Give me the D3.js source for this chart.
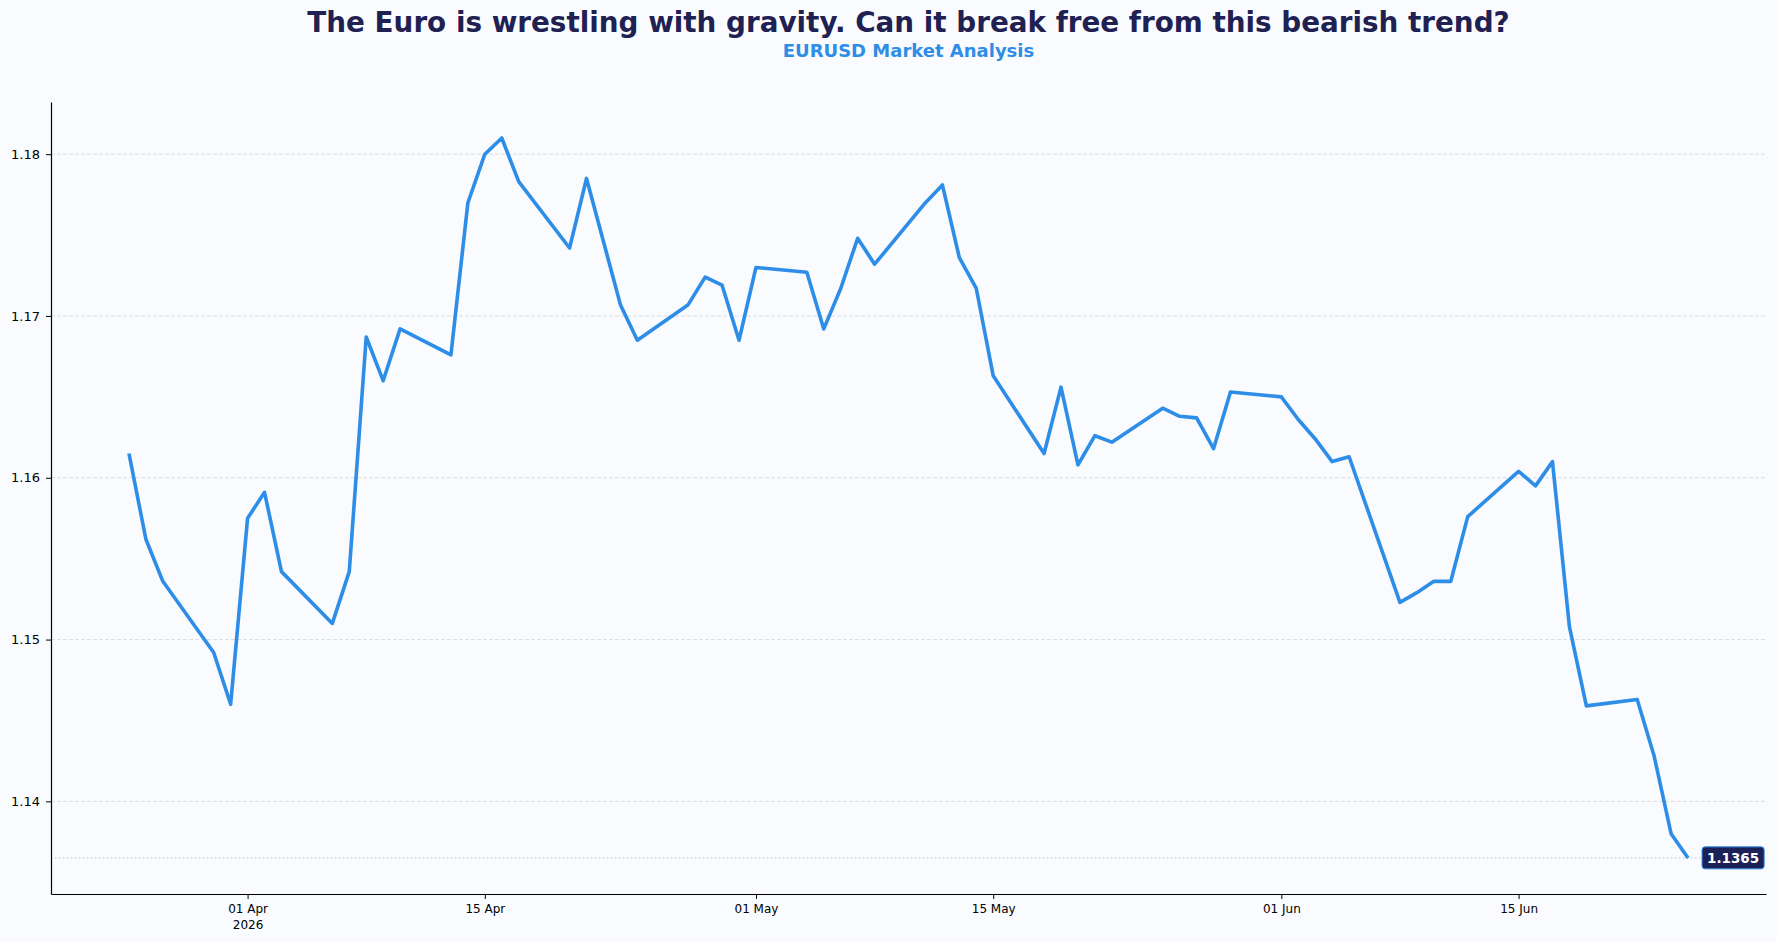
<!DOCTYPE html>
<html>
<head>
<meta charset="utf-8">
<script src="https://cdn.jsdelivr.net/npm/d3@7"></script>
<style>
  html, body { margin: 0; padding: 0; background: #f9fbfe; }
  svg { display: block; font-family: "DejaVu Sans", sans-serif; }
</style>
</head>
<body>
<div id="container"></div>
<script>
/* CONSTANTS AND GLOBALS */
const width = 1777,
  height = 942,
  margin = { top: 102, right: 11, bottom: 48, left: 51 };

const title = "The Euro is wrestling with gravity. Can it break free from this bearish trend?";
const subtitle = "EURUSD Market Analysis";

/* DATA (trading days, close) */
const dates = [
  "2026-03-25", "2026-03-26", "2026-03-27", "2026-03-30", "2026-03-31",
  "2026-04-01", "2026-04-02", "2026-04-03", "2026-04-06", "2026-04-07",
  "2026-04-08", "2026-04-09", "2026-04-10", "2026-04-13", "2026-04-14",
  "2026-04-15", "2026-04-16", "2026-04-17", "2026-04-20", "2026-04-21",
  "2026-04-22", "2026-04-23", "2026-04-24", "2026-04-27", "2026-04-28",
  "2026-04-29", "2026-04-30", "2026-05-01", "2026-05-04", "2026-05-05",
  "2026-05-06", "2026-05-07", "2026-05-08", "2026-05-11", "2026-05-12",
  "2026-05-13", "2026-05-14", "2026-05-15", "2026-05-18", "2026-05-19",
  "2026-05-20", "2026-05-21", "2026-05-22", "2026-05-25", "2026-05-26",
  "2026-05-27", "2026-05-28", "2026-05-29", "2026-06-01", "2026-06-02",
  "2026-06-03", "2026-06-04", "2026-06-05", "2026-06-08", "2026-06-09",
  "2026-06-10", "2026-06-11", "2026-06-12", "2026-06-15", "2026-06-16",
  "2026-06-17", "2026-06-18", "2026-06-19", "2026-06-22", "2026-06-23",
  "2026-06-24", "2026-06-25"
];
const closes = [
  1.1615, 1.1562, 1.1536, 1.1492, 1.1460,
  1.1575, 1.1591, 1.1542, 1.1510, 1.1542,
  1.1687, 1.1660, 1.1692, 1.1676, 1.1770,
  1.1800, 1.1810, 1.1783, 1.1742, 1.1785,
  1.1746, 1.1707, 1.1685, 1.1707, 1.1724,
  1.1719, 1.1685, 1.1730, 1.1727, 1.1692,
  1.1717, 1.1748, 1.1732, 1.1770, 1.1781,
  1.1736, 1.1717, 1.1663, 1.1615, 1.1656,
  1.1608, 1.1626, 1.1622, 1.1643, 1.1638,
  1.1637, 1.1618, 1.1653, 1.1650, 1.1636,
  1.1624, 1.1610, 1.1613, 1.1523, 1.1529,
  1.1536, 1.1536, 1.1576, 1.1604, 1.1595,
  1.1610, 1.1508, 1.1459, 1.1463, 1.1428,
  1.1380, 1.1365
];
const xTickDates = ["2026-04-01", "2026-04-15", "2026-05-01", "2026-05-15", "2026-06-01", "2026-06-15"];
const yTicks = [1.14, 1.15, 1.16, 1.17, 1.18];

const parse = d3.utcParse("%Y-%m-%d");
const data = dates.map((d, i) => ({ date: parse(d), close: closes[i] }));
const last = data[data.length - 1];

// matplotlib-like 5% margins
function pad(ext) {
  const p = (ext[1] - ext[0]) * 0.05;
  return [ext[0] - p, ext[1] + p];
}

// SCALES
const xExt = d3.extent(data, d => +d.date);
const xPad = pad(xExt);
const xScale = d3.scaleUtc()
  .domain([new Date(xPad[0]), new Date(xPad[1])])
  .range([margin.left, width - margin.right]);

const yScale = d3.scaleLinear()
  .domain(pad(d3.extent(data, d => d.close)))
  .range([height - margin.bottom, margin.top]);

const centerX = (margin.left + width - margin.right) / 2;

// CREATE SVG ELEMENT
const svg = d3.select("#container")
  .append("svg")
  .attr("width", width)
  .attr("height", height);

svg.append("rect")
  .attr("width", width)
  .attr("height", height)
  .attr("fill", "#f9fbfe");

// TITLES
svg.append("text")
  .attr("x", centerX)
  .attr("y", 32)
  .attr("text-anchor", "middle")
  .attr("font-size", 27.8)
  .attr("font-weight", "bold")
  .attr("fill", "#1f2152")
  .text(title);

svg.append("text")
  .attr("x", centerX)
  .attr("y", 57)
  .attr("text-anchor", "middle")
  .attr("font-size", 18)
  .attr("font-weight", "bold")
  .attr("fill", "#2e8de6")
  .text(subtitle);

// GRID
svg.append("g")
  .attr("class", "grid")
  .selectAll("line")
  .data(yTicks)
  .join("line")
  .attr("x1", margin.left)
  .attr("x2", width - margin.right)
  .attr("y1", d => yScale(d))
  .attr("y2", d => yScale(d))
  .attr("stroke", "#d3d6dc")
  .attr("stroke-width", 0.8)
  .attr("stroke-dasharray", "4,2");

// last value reference line
svg.append("line")
  .attr("x1", margin.left)
  .attr("x2", width - margin.right)
  .attr("y1", yScale(last.close))
  .attr("y2", yScale(last.close))
  .attr("stroke", "#b8bcc4")
  .attr("stroke-width", 1)
  .attr("stroke-dasharray", "1.5,2.5");

// LINE GENERATOR FUNCTION
const lineGen = d3.line()
  .x(d => xScale(d.date))
  .y(d => yScale(d.close));

svg.append("path")
  .datum(data)
  .attr("class", "line")
  .attr("fill", "none")
  .attr("stroke", "#2e8de6")
  .attr("stroke-width", 3.6)
  .attr("stroke-linejoin", "round")
  .attr("d", lineGen);

// AXES
const xAxis = svg.append("g")
  .attr("class", "x-axis")
  .attr("transform", `translate(0, ${height - margin.bottom})`)
  .call(d3.axisBottom(xScale)
    .tickValues(xTickDates.map(parse))
    .tickFormat(d3.utcFormat("%d %b"))
    .tickSize(5)
    .tickSizeOuter(0));

xAxis.select(".domain").attr("stroke", "#000").attr("stroke-width", 1.2);
xAxis.selectAll(".tick line").attr("stroke", "#000");
xAxis.selectAll(".tick text")
  .attr("font-size", 12)
  .attr("font-family", "DejaVu Sans")
  .attr("fill", "#000")
  .attr("dy", "0.71em")
  .attr("y", 10);

// year below first tick
xAxis.selectAll(".tick")
  .filter((d, i) => i === 0)
  .append("text")
  .attr("y", 26)
  .attr("dy", "0.71em")
  .attr("fill", "#000")
  .attr("font-size", 12)
  .attr("font-family", "DejaVu Sans")
  .attr("text-anchor", "middle")
  .text(d => d3.utcFormat("%Y")(d));

const yAxis = svg.append("g")
  .attr("class", "y-axis")
  .attr("transform", `translate(${margin.left}, 0)`)
  .call(d3.axisLeft(yScale)
    .tickValues(yTicks)
    .tickFormat(d3.format(".2f"))
    .tickSize(5)
    .tickSizeOuter(0));

yAxis.select(".domain").attr("stroke", "#000").attr("stroke-width", 1.2);
yAxis.selectAll(".tick line").attr("stroke", "#000");
yAxis.selectAll(".tick text")
  .attr("font-size", 13)
  .attr("font-family", "DejaVu Sans")
  .attr("fill", "#000")
  .attr("x", -11);

// LAST VALUE BADGE
const badge = svg.append("g")
  .attr("transform", `translate(${xScale(last.date) + 14}, ${yScale(last.close)})`);

const badgeText = badge.append("text")
  .attr("x", 5)
  .attr("y", 0)
  .attr("dy", "0.36em")
  .attr("font-size", 13.5)
  .attr("font-weight", "bold")
  .attr("fill", "#ffffff")
  .text(d3.format(".4f")(last.close));

const bb = badgeText.node().getBBox();
badge.insert("rect", "text")
  .attr("x", bb.x - 5)
  .attr("y", bb.y - 3)
  .attr("width", bb.width + 10)
  .attr("height", bb.height + 6)
  .attr("rx", 3)
  .attr("fill", "#1b2157")
  .attr("stroke", "#2e8de6")
  .attr("stroke-width", 1);
</script>
</body>
</html>
